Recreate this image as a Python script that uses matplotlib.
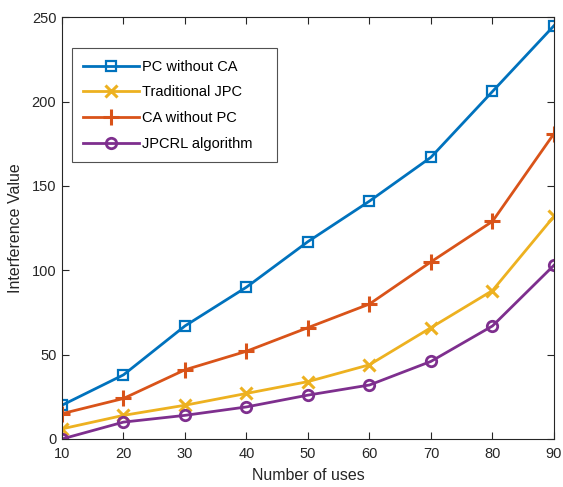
import matplotlib
matplotlib.use("Agg")
import matplotlib.pyplot as plt

x_uses = [10, 20, 30, 40, 50, 60, 70, 80, 90]
pc_without_ca = [20, 38, 67, 90, 117, 141, 167, 206, 245]
traditional_jpc = [6, 14, 20, 27, 34, 44, 66, 88, 132]
ca_without_pc = [15, 24, 41, 52, 66, 80, 105, 129, 181]
jpcrl = [0, 10, 14, 19, 26, 32, 46, 67, 103]

plt.rcParams['font.family'] = ['Liberation Sans', 'DejaVu Sans']

fig = plt.figure(figsize=(5.63, 4.87), dpi=100)
ax = fig.add_axes([0.110, 0.0986, 0.874, 0.866])

lw = 2.0
ax.plot(x_uses, pc_without_ca, color='#0072BD', lw=lw, marker='s', ms=6.5,
        mfc='none', mew=1.6, label='PC without CA')
ax.plot(x_uses, traditional_jpc, color='#EDB120', lw=lw, marker='x', ms=9,
        mew=2.2, label='Traditional JPC')
ax.plot(x_uses, ca_without_pc, color='#D95319', lw=lw, marker='+', ms=11,
        mew=2.2, label='CA without PC')
ax.plot(x_uses, jpcrl, color='#7E2F8E', lw=lw, marker='o', ms=7.5,
        mfc='none', mew=2.0, label='JPCRL algorithm')

ax.set_xlim(10, 90)
ax.set_ylim(0, 250)
ax.set_xticks(x_uses)
ax.set_yticks([0, 50, 100, 150, 200, 250])
ax.tick_params(direction='in', top=True, right=True, labelsize=10.5,
               length=5, width=0.8, colors='#262626')
ax.tick_params(axis='x', pad=6)
ax.tick_params(axis='y', pad=4)
for s in ax.spines.values():
    s.set_color('#262626')
    s.set_linewidth(0.8)
ax.set_xlabel('Number of uses', fontsize=11.5, color='#262626', labelpad=5)
ax.set_ylabel('Interference Value', fontsize=11.5, color='#262626', labelpad=6)

leg = ax.legend(loc='upper left', bbox_to_anchor=(0.020, 0.662, 0.417, 0.265),
                mode='expand', fontsize=10.5,
                frameon=True, fancybox=False, edgecolor='#262626',
                handlelength=3.8, borderpad=0.8, labelspacing=0.8,
                handletextpad=0.2, borderaxespad=0)
leg.get_frame().set_linewidth(0.8)

fig.savefig('out.png', dpi=100)
